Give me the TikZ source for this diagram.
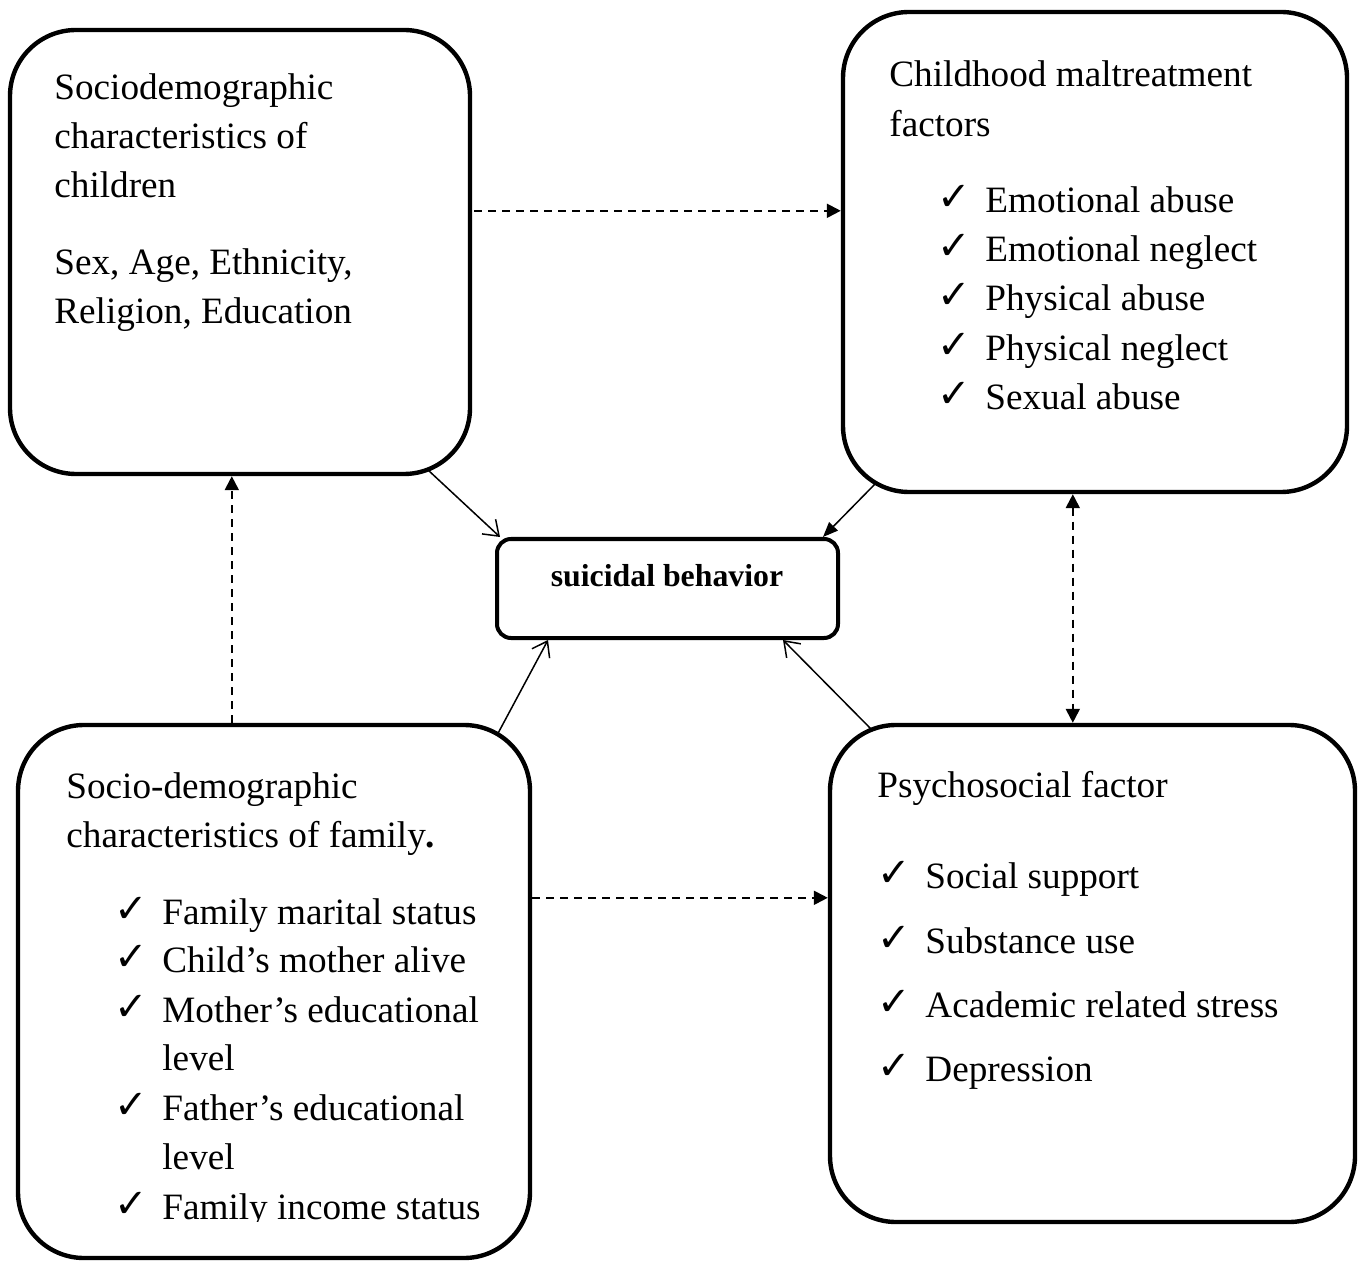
\documentclass[tikz,border=0pt]{standalone}
\usepackage{fontspec}
\setmainfont{Liberation Serif}
\newfontfamily\symfont{DejaVu Sans}
\usetikzlibrary{arrows.meta,calc,fit}
\tikzset{
  box/.style={draw, line width=2.2pt, rounded corners=33pt, inner sep=0pt},
  cbox/.style={draw, line width=2pt, rounded corners=7pt, inner sep=0pt},
  txt/.style={anchor=base west, inner sep=0pt, font=\fontsize{18.6}{24.5}\selectfont},
  ctxt/.style={anchor=base, inner sep=0pt, font=\fontsize{15.9}{19}\selectfont\bfseries},
  chk/.style={anchor=base west, inner sep=0pt, font=\symfont\fontsize{20}{22}\selectfont},
  dasharrow/.style={line width=1pt, dash pattern=on 4pt off 3pt, -{Triangle[length=7pt,width=7pt]}},
  dashboth/.style={line width=1pt, dash pattern=on 4pt off 3pt, {Triangle[length=7pt,width=7pt]}-{Triangle[length=7pt,width=7pt]}},
  openarrow/.style={line width=0.75pt, -{Straight Barb[length=7pt,width=10pt]}},
  fillarrow/.style={line width=0.75pt, -{Triangle[length=7.5pt,width=6pt]}}
}
\begin{document}
\begin{tikzpicture}[x=0.5pt,y=-0.5pt]
\useasboundingbox (0,0) rectangle (1359,1261);

% boxes
\node[box, fit={(10,30)(470,474)}] (A) {};
\node[box, fit={(843,12)(1347,492)}] (B) {};
\node[box, fit={(18,725)(530,1258)}] (C) {};
\node[box, fit={(830,725)(1355,1222)}] (D) {};
\node[cbox, fit={(497,539)(838,638)}] (E) {};

% box A text
\node[txt] (a1) at (54,100) {Sociodemographic};
\node[txt] (a2) at (54,149) {characteristics of};
\node[txt] (a3) at (54,198) {children};
\node[txt] (a4) at (54,275) {Sex, Age, Ethnicity,};
\node[txt] (a5) at (54,324) {Religion, Education};

% box B text
\node[txt] (b1) at (889,87) {Childhood maltreatment};
\node[txt] (b2) at (889,137) {factors};
\foreach \y/\t [count=\i] in {213/Emotional abuse,262/Emotional neglect,311/Physical abuse,361/Physical neglect,410/Sexual abuse}{
  \node[chk] (bk\i) at (937,\y-2) {✓};
  \node[txt] (bi\i) at (985,\y) {\t};
}

% box C text
\node[txt] (c1) at (66,798) {Socio-demographic};
\node[txt] (c2) at (66,847) {characteristics of family{\bfseries .}};
\foreach \y/\t [count=\i] in {924/Family marital status,972/Child’s mother alive,1022/Mother’s educational,1120/Father’s educational}{
  \node[chk] (ck\i) at (114,\y-2) {✓};
  \node[txt] (ci\i) at (162,\y) {\t};
}
\node[txt] (cl1) at (162,1070) {level};
\node[txt] (cl2) at (162,1169) {level};
\begin{scope}
  \clip (18,725) rectangle (530,1221);
  \node[chk] (ck5) at (114,1217) {✓};
  \node[txt] (ci5) at (162,1219) {Family income status};
\end{scope}

% box D text
\node[txt] (d1) at (877,797) {Psychosocial factor};
\foreach \y/\t [count=\i] in {888/Social support,953/Substance use,1017/Academic related stress,1081/Depression}{
  \node[chk] (dk\i) at (877,\y-2) {✓};
  \node[txt] (di\i) at (925,\y) {\t};
}

% centre text
\node[ctxt] (e1) at (667,586) {suicidal behavior};

% dashed connectors
\draw[dasharrow] ($(A.north east)+(2,183)$) -- ($(B.north west)+(0,201)$);
\draw[dasharrow] ($(C.north east)+(0,175)$) -- ($(D.north west)+(0,175)$);
\draw[dasharrow] ($(C.north west)+(216,0)$) -- ($(A.south west)+(224,0)$);
\draw[dashboth] ($(B.south west)+(232,0)$) -- ($(D.north west)+(245,0)$);

% solid connectors
\draw[openarrow] ($(A.south east)+(-44,-6)$) -- ($(E.north west)+(5,0)$);
\draw[fillarrow] ($(B.south west)+(35,-11)$) -- ($(E.north east)+(-17,0)$);
\draw[openarrow] ($(C.north east)+(-35,12)$) -- ($(E.south west)+(53,0)$);
\draw[openarrow] ($(D.north west)+(45,8)$) -- ($(E.south east)+(-57,0)$);
\end{tikzpicture}
\end{document}
